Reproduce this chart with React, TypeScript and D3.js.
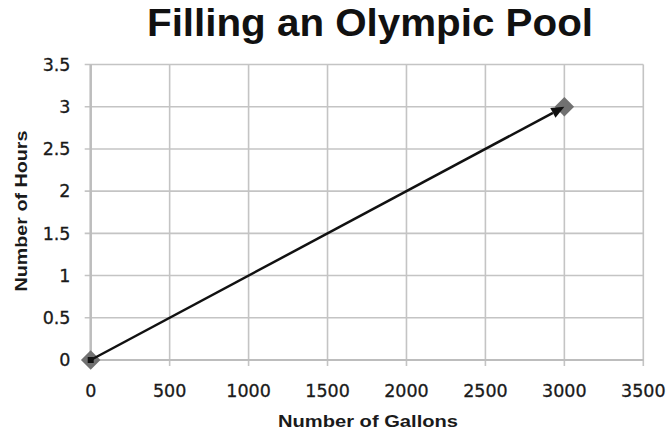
import React from "react";
import * as d3 from "d3";

const gallons = [0, 3000];
const hours = [0, 3];
const xTicks = [0, 500, 1000, 1500, 2000, 2500, 3000, 3500];
const yTicks = [0, 0.5, 1, 1.5, 2, 2.5, 3, 3.5];
const title = "Filling an Olympic Pool";
const xTitle = "Number of Gallons";
const yTitle = "Number of Hours";

const W = 671;
const H = 434;
const m = { left: 90.7, right: 671 - 643.3, top: 64.5, bottom: 434 - 360 };

export default function App() {
  const x = d3.scaleLinear().domain([0, 3500]).range([m.left, W - m.right]);
  const y = d3.scaleLinear().domain([0, 3.5]).range([H - m.bottom, m.top]);
  const grid = "#c4c4c4";
  const font = "'Liberation Sans', Arial, sans-serif";
  const font2 = "'DejaVu Sans', Verdana, sans-serif";
  const x0 = x(gallons[0]), y0 = y(hours[0]);
  const x1 = x(gallons[1]), y1 = y(hours[1]);
  const ang = Math.atan2(y1 - y0, x1 - x0);
  const ah = 13, aw = 5.5;
  const tip = [x1, y1];
  const base = [x1 - ah * Math.cos(ang), y1 - ah * Math.sin(ang)];
  const p1 = [base[0] + aw * Math.sin(ang), base[1] - aw * Math.cos(ang)];
  const p2 = [base[0] - aw * Math.sin(ang), base[1] + aw * Math.cos(ang)];
  const diamond = d3.symbol(d3.symbolSquare, 190)();
  return (
    <svg width={W} height={H} style={{ position: "absolute", left: 0, top: 0, background: "#fff" }}>
      <text x={370} y={35.5} textAnchor="middle" fontFamily={font} fontWeight="bold" fontSize={38} fill="#111" textLength={446} lengthAdjust="spacingAndGlyphs">
        {title}
      </text>
      {yTicks.map((t) => (
        <line key={"gy" + t} x1={m.left - 6} x2={W - m.right} y1={y(t)} y2={y(t)} stroke={grid} strokeWidth={1.6} />
      ))}
      {xTicks.map((t) => (
        <line key={"gx" + t} x1={x(t)} x2={x(t)} y1={m.top} y2={H - m.bottom + 6} stroke={grid} strokeWidth={1.6} />
      ))}
      <line x1={m.left} x2={m.left} y1={m.top} y2={H - m.bottom + 6} stroke="#bdbdbd" strokeWidth={2.5} />
      <line x1={m.left - 6} x2={W - m.right} y1={H - m.bottom} y2={H - m.bottom} stroke="#bdbdbd" strokeWidth={2} />
      {yTicks.map((t) => (
        <text key={"ly" + t} x={70.5} y={y(t)} dy="0.36em" textAnchor="end" fontFamily={font2} fontSize={17.5} fill="#1a1a1a" stroke="#1a1a1a" strokeWidth={0.3}>
          {t}
        </text>
      ))}
      {xTicks.map((t) => (
        <text key={"lx" + t} x={x(t)} y={396.5} textAnchor="middle" fontFamily={font2} fontSize={17.5} fill="#1a1a1a" stroke="#1a1a1a" strokeWidth={0.3}>
          {t}
        </text>
      ))}
      <text x={368} y={426.5} textAnchor="middle" fontFamily={font} fontWeight="bold" fontSize={17} fill="#1a1a1a" textLength={180} lengthAdjust="spacingAndGlyphs">
        {xTitle}
      </text>
      <text transform={`translate(26.5,211) rotate(-90)`} textAnchor="middle" fontFamily={font} fontWeight="bold" fontSize={17} fill="#1a1a1a" textLength={161} lengthAdjust="spacingAndGlyphs">
        {yTitle}
      </text>
      {gallons.map((g, i) => (
        <path key={"pt" + i} d={diamond} transform={`translate(${x(g)},${y(hours[i])}) rotate(45)`} fill="#717171" />
      ))}
      <line x1={x0} y1={y0} x2={base[0]} y2={base[1]} stroke="#111" strokeWidth={2.5} />
      <path d={`M${tip[0]},${tip[1]}L${p1[0]},${p1[1]}L${p2[0]},${p2[1]}Z`} fill="#111" />
      <rect x={x0 - 3} y={y0 - 3} width={6} height={6} fill="#111" />
    </svg>
  );
}
